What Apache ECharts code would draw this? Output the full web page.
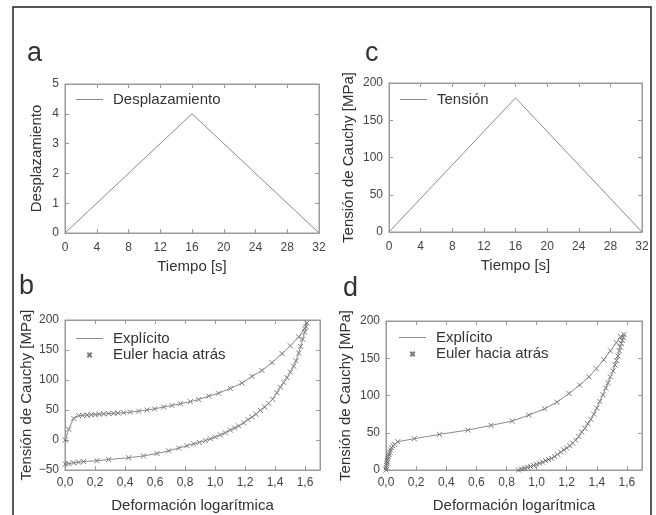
<!DOCTYPE html>
<html>
<head>
<meta charset="utf-8">
<script src="https://cdn.jsdelivr.net/npm/echarts@6/dist/echarts.min.js"></script>
<style>
html,body{margin:0;padding:0;background:#fff}
#main{width:656px;height:515px}
</style>
</head>
<body>
<div id="main"></div>
<script>
// a y c: historia en el tiempo
var tiempo = [0, 16, 32];
var desplazamiento = [0, 4, 0];
var tensionTiempo = [0, 180, 0];

// b: carga / descarga (deformacion, tension)
var bCarga = [[0.002,0],[0.024,18],[0.058,36],[0.091,40.5],[0.118,41],[0.147,41.5],[0.176,42],[0.202,42.5],
  [0.229,43],[0.258,43.5],[0.291,44],[0.324,44.5],[0.353,45],[0.391,45.5],[0.436,46.5],[0.491,48],[0.547,50],
  [0.598,52],[0.658,55],[0.713,57.5],[0.769,60.5],[0.836,64],[0.891,67.5],[0.958,73],[1.024,78],[1.102,86],
  [1.18,95],[1.247,106],[1.313,116],[1.38,129],[1.447,144],[1.502,157],[1.558,172],[1.598,186],[1.613,195]];
var bDescarga = [[1.607,189],[1.598,180],[1.584,168],[1.571,156],[1.558,145],[1.54,132],[1.524,123],[1.502,113],
  [1.48,104],[1.458,96],[1.436,88],[1.413,79],[1.384,68],[1.358,61],[1.331,55],[1.302,49.5],[1.273,43],[1.247,38.5],
  [1.22,34],[1.191,28.5],[1.158,23.5],[1.131,20],[1.102,16.5],[1.069,12],[1.036,8.5],[1.002,5],[0.969,2],[0.936,-1],
  [0.896,-4],[0.858,-6.5],[0.813,-9.5],[0.758,-13.5],[0.691,-18],[0.613,-22.5],[0.524,-26.5],[0.424,-29.5],
  [0.291,-32.5],[0.213,-34.5],[0.124,-36],[0.09,-37],[0.058,-38],[0.024,-39.5],[0.002,-40]];

// d
var dCarga = [[0,0],[0.002,3],[0.004,6],[0.006,9],[0.009,12],[0.012,15],[0.016,18],[0.02,21],[0.025,24],[0.03,27],
  [0.037,30],[0.046,32.5],[0.058,34.5],[0.078,38],[0.188,42],[0.355,47.8],[0.543,53.6],[0.698,59.9],[0.838,65.7],
  [0.949,73.7],[1.053,82.2],[1.135,91],[1.215,102.7],[1.286,114],[1.348,125],[1.397,136],[1.446,148],[1.49,160],
  [1.53,171],[1.557,179],[1.58,182]];
var dDescarga = [[1.575,178],[1.569,174],[1.563,170],[1.556,165],[1.55,160],[1.541,153],[1.531,147],[1.52,141],
  [1.508,133],[1.49,125],[1.475,117],[1.46,110],[1.44,101],[1.42,92],[1.4,83],[1.38,75],[1.36,68],[1.34,62],
  [1.32,56],[1.3,51],[1.28,45],[1.26,40],[1.24,36],[1.22,32.5],[1.2,29.5],[1.18,27],[1.16,24],[1.14,21],[1.12,18],
  [1.1,15.5],[1.08,14],[1.06,12.5],[1.04,10.5],[1.02,9],[1,7.5],[0.98,6],[0.96,4.8],[0.94,3.6],[0.92,2.5],
  [0.9,1.3],[0.88,0]];

var fuente = 'Liberation Sans, Arial, Helvetica, sans-serif';
var gris = '#8a8a8a';
var marco = '#9a9a9a';
var cruz = 'path://M0,0 L10,10 M10,0 L0,10';
var cruzLeyenda = 'path://M0,0 M16,16 M5.5,5.5 L10.5,10.5 M10.5,5.5 L5.5,10.5';
var rayaLeyenda = 'path://M0,0 L27,0 L27,1 L0,1 Z';

function coma(v) { return v.toFixed(1).replace('.', ','); }
function menos(v) { return String(v).replace('-', '\u2212'); }

// ejes: principal con etiquetas + espejo para las marcas del otro lado
function ejes(dim, g, o) {
  var base = {
    gridIndex: g, type: 'value', min: o.min, max: o.max, interval: o.interval,
    axisLine: { onZero: false, lineStyle: { color: marco, width: 1 } },
    axisTick: { inside: true, length: 4, lineStyle: { color: marco } },
    splitLine: { show: false }
  };
  var p = Object.assign({}, base, {
    position: dim == 'x' ? 'bottom' : 'left',
    axisLabel: { margin: o.margin || 6, color: '#444', fontSize: 12, fontFamily: fuente,
      formatter: o.fmt || menos, showMaxLabel: o.showMax !== false },
    name: o.name, nameLocation: 'middle', nameGap: o.gap,
    nameTextStyle: { fontSize: 15, color: '#333', fontFamily: fuente }
  });
  var s = Object.assign({}, base, {
    position: dim == 'x' ? 'top' : 'right', axisLabel: { show: false }
  });
  return [p, s];
}

var xAxis = [].concat(
  ejes('x', 0, { min: 0, max: 32, interval: 4, name: 'Tiempo [s]', gap: 26, margin: 9 }),
  ejes('x', 1, { min: 0, max: 32, interval: 4, name: 'Tiempo [s]', gap: 26, margin: 9 }),
  ejes('x', 2, { min: 0, max: 1.7, interval: 0.2, name: 'Deformación logarítmica', gap: 28, margin: 7, fmt: coma, showMax: false }),
  ejes('x', 3, { min: 0, max: 1.7, interval: 0.2, name: 'Deformación logarítmica', gap: 28, margin: 7, fmt: coma, showMax: false })
);
var yAxis = [].concat(
  ejes('y', 0, { min: 0, max: 5, interval: 1, name: 'Desplazamiento', gap: 21 }),
  ejes('y', 1, { min: 0, max: 200, interval: 50, name: 'Tensión de Cauchy [MPa]', gap: 33 }),
  ejes('y', 2, { min: -50, max: 200, interval: 50, name: 'Tensión de Cauchy [MPa]', gap: 30 }),
  ejes('y', 3, { min: 0, max: 200, interval: 50, name: 'Tensión de Cauchy [MPa]', gap: 33 })
);

function linea(nombre, eje, datos) {
  return { type: 'line', name: nombre, xAxisIndex: eje, yAxisIndex: eje, data: datos, symbol: 'none',
    lineStyle: { color: gris, width: 1 }, itemStyle: { color: gris }, animation: false };
}
function marcas(eje, datos) {
  return { type: 'scatter', name: 'Euler hacia atrás', xAxisIndex: eje, yAxisIndex: eje, data: datos,
    symbol: cruz, symbolSize: 5,
    itemStyle: { color: 'transparent', borderColor: '#555', borderWidth: 1 }, animation: false };
}

function leyenda(x, y, datos) {
  return { left: x, top: y, orient: 'vertical', padding: 0, itemGap: 1, itemWidth: 27, itemHeight: 14,
    selectedMode: false, data: datos,
    textStyle: { fontSize: 15, color: '#333', fontFamily: fuente, padding: [0, 0, 0, 5] } };
}
var datosLeyenda = [{ name: 'Explícito', icon: rayaLeyenda }, { name: 'Euler hacia atrás', icon: cruzLeyenda }];

function letra(t, x, y) {
  return { type: 'text', left: x, top: y, style: { text: t, fontSize: 27, fill: '#333', fontFamily: fuente } };
}

var chart = echarts.init(document.getElementById('main'));
chart.setOption({
  backgroundColor: '#fff',
  animation: false,
  textStyle: { fontFamily: fuente },
  grid: [
    { left: 65, top: 84, width: 254, height: 149, show: true, borderColor: marco, borderWidth: 1 },
    { left: 389, top: 83, width: 253, height: 149, show: true, borderColor: marco, borderWidth: 1 },
    { left: 65, top: 320, width: 255, height: 150, show: true, borderColor: marco, borderWidth: 1 },
    { left: 386, top: 321, width: 256, height: 149, show: true, borderColor: marco, borderWidth: 1 }
  ],
  xAxis: xAxis,
  yAxis: yAxis,
  legend: [
    leyenda(76, 92, [{ name: 'Desplazamiento', icon: rayaLeyenda }]),
    leyenda(400, 92, [{ name: 'Tensión', icon: rayaLeyenda }]),
    leyenda(76, 331, datosLeyenda),
    leyenda(399, 330, datosLeyenda)
  ],
  series: [
    linea('Desplazamiento', 0, tiempo.map(function (t, i) { return [t, desplazamiento[i]]; })),
    linea('Tensión', 2, tiempo.map(function (t, i) { return [t, tensionTiempo[i]]; })),
    linea('Explícito', 4, bCarga.concat(bDescarga)),
    marcas(4, bCarga.concat(bDescarga)),
    linea('Explícito', 6, dCarga.concat(dDescarga)),
    marcas(6, dCarga.concat(dDescarga))
  ],
  graphic: [
    { type: 'rect', shape: { x: 13, y: 7, width: 638, height: 530 },
      style: { fill: 'none', stroke: '#222', lineWidth: 1.5 } },
    letra('a', 27, 40),
    letra('c', 365, 40),
    letra('b', 19, 273),
    letra('d', 343, 275)
  ]
});
</script>
</body>
</html>
